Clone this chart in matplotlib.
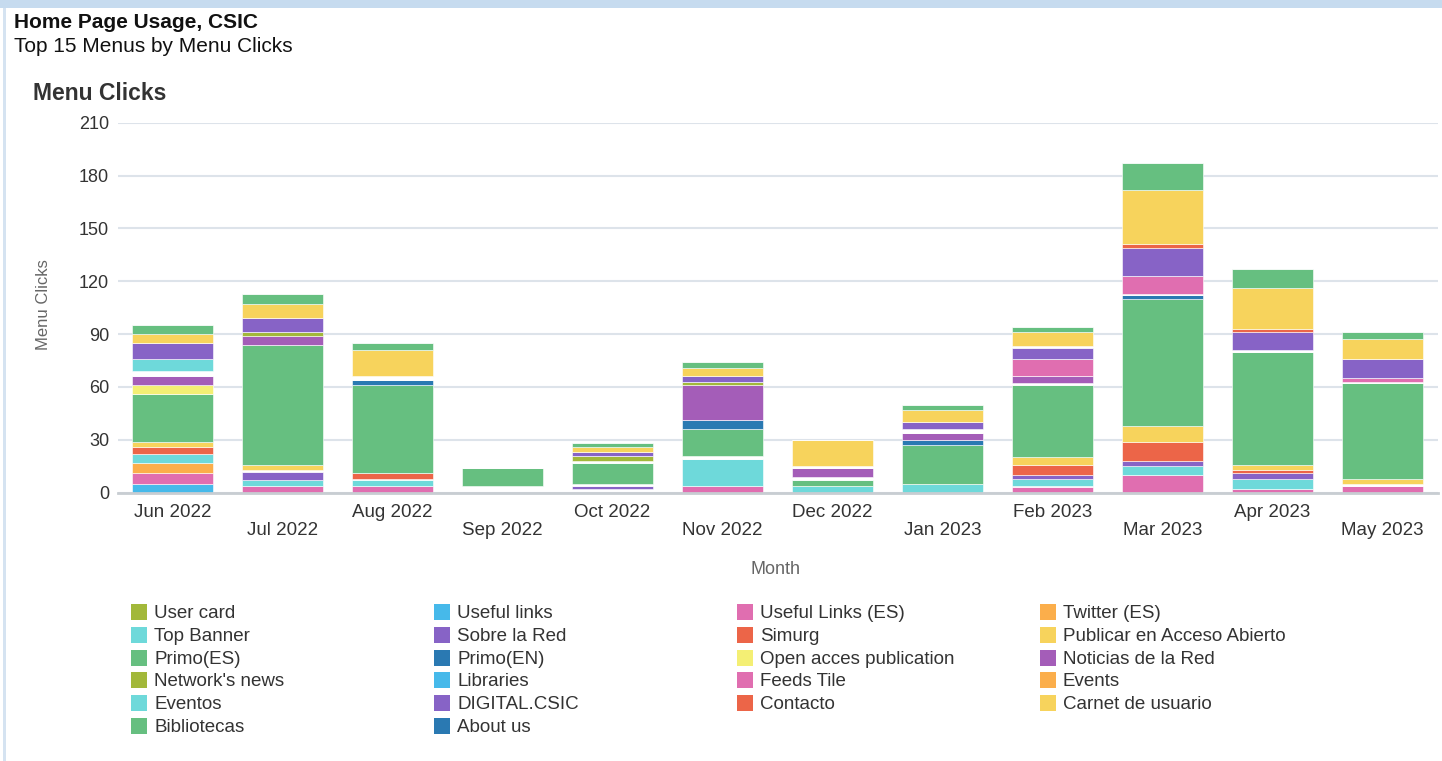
import numpy as np
import matplotlib
matplotlib.use("Agg")
import matplotlib.pyplot as plt
from matplotlib.patches import Rectangle

plt.rcParams['font.family'] = ['Liberation Sans', 'DejaVu Sans']

W, H = 1442, 761

months = ["Jun 2022", "Jul 2022", "Aug 2022", "Sep 2022", "Oct 2022", "Nov 2022",
          "Dec 2022", "Jan 2023", "Feb 2023", "Mar 2023", "Apr 2023", "May 2023"]

# series, bottom of the stack first
user_card      = [0, 0, 0, 0, 0, 0, 0, 0, 0, 0, 0, 0]
useful_links   = [5, 0, 0, 0, 0, 0, 0, 0, 0, 0, 0, 0]
useful_links_es = [6, 4, 4, 0, 0, 4, 0, 0, 3, 10, 2, 4]
twitter_es     = [6, 0, 0, 0, 0, 0, 0, 0, 0, 0, 0, 0]
top_banner     = [5, 3, 3, 0, 0, 15, 4, 5, 4, 5, 6, 0]
sobre_la_red   = [0, 5, 0, 0, 2, 0, 0, 0, 2, 3, 3, 0]
simurg         = [4, 0, 3, 0, 0, 0, 0, 0, 6, 11, 2, 0]
publicar       = [3, 3, 0, 0, 0, 0, 0, 0, 4, 9, 3, 3]
primo_es       = [27, 68, 50, 10, 12, 15, 3, 22, 41, 72, 64, 54]
primo_en       = [0, 0, 3, 0, 0, 5, 0, 3, 0, 2, 0, 0]
open_acces     = [5, 0, 0, 0, 0, 0, 0, 0, 0, 0, 0, 0]
noticias       = [5, 5, 0, 0, 0, 20, 5, 4, 4, 0, 0, 0]
networks_news  = [0, 2, 0, 0, 3, 2, 0, 0, 0, 0, 0, 0]
libraries      = [0, 0, 0, 0, 0, 0, 0, 0, 0, 0, 0, 0]
feeds_tile     = [0, 0, 0, 0, 0, 0, 0, 0, 10, 10, 0, 2]
events         = [0, 0, 0, 0, 0, 0, 0, 0, 0, 0, 0, 0]
eventos        = [7, 0, 0, 0, 0, 0, 0, 0, 0, 0, 0, 0]
digital_csic   = [9, 8, 0, 0, 2, 3, 0, 4, 6, 16, 10, 11]
contacto       = [0, 0, 0, 0, 0, 0, 0, 0, 0, 2, 2, 0]
carnet         = [5, 8, 15, 0, 3, 5, 15, 7, 8, 31, 23, 11]
bibliotecas    = [5, 6, 4, 0, 2, 3, 0, 3, 3, 15, 11, 4]
about_us       = [0, 0, 0, 0, 0, 0, 0, 0, 0, 0, 0, 0]

# empty (white) space showing up under some segments
gap_below = {
    "Top Banner":                 [0, 0, 0, 0, 0, 0, 0, 0, 1, 0, 0, 0],
    "Sobre la Red":               [0, 0, 0, 0, 2, 0, 0, 0, 0, 0, 0, 0],
    "Simurg":                     [0, 0, 1, 0, 0, 0, 0, 0, 0, 0, 0, 0],
    "Publicar en Acceso Abierto": [0, 1, 0, 0, 0, 0, 0, 0, 0, 0, 0, 1],
    "Primo(ES)":                  [0, 0, 0, 4, 1, 2, 0, 0, 0, 0, 0, 0],
    "Noticias de la Red":         [0, 0, 0, 0, 0, 0, 2, 0, 1, 0, 0, 0],
    "Network's news":             [0, 0, 0, 0, 1, 0, 0, 0, 0, 0, 0, 0],
    "Feeds Tile":                 [0, 0, 0, 0, 0, 0, 0, 0, 0, 1, 0, 1],
    "Eventos":                    [3, 0, 0, 0, 0, 0, 0, 0, 0, 0, 0, 0],
    "DIGITAL.CSIC":               [0, 0, 0, 0, 0, 0, 0, 2, 0, 0, 1, 0],
    "Carnet de usuario":          [0, 0, 2, 0, 0, 0, 1, 0, 1, 0, 0, 0],
}

GREEN, YELLOW, PURPLE, MAGENTA = '#66bf80', '#f7d35c', '#8763c6', '#a45db8'
CYAN, PINK, ORANGE, RED = '#6ed9da', '#e06eb0', '#fbae4b', '#ec6548'
LYELLOW, OLIVE, DBLUE, LBLUE = '#f4ef74', '#a2b83a', '#2a79b2', '#46b9ea'

series = [
    ("User card", user_card, OLIVE),
    ("Useful links", useful_links, LBLUE),
    ("Useful Links (ES)", useful_links_es, PINK),
    ("Twitter (ES)", twitter_es, ORANGE),
    ("Top Banner", top_banner, CYAN),
    ("Sobre la Red", sobre_la_red, PURPLE),
    ("Simurg", simurg, RED),
    ("Publicar en Acceso Abierto", publicar, YELLOW),
    ("Primo(ES)", primo_es, GREEN),
    ("Primo(EN)", primo_en, DBLUE),
    ("Open acces publication", open_acces, LYELLOW),
    ("Noticias de la Red", noticias, MAGENTA),
    ("Network's news", networks_news, OLIVE),
    ("Libraries", libraries, LBLUE),
    ("Feeds Tile", feeds_tile, PINK),
    ("Events", events, ORANGE),
    ("Eventos", eventos, CYAN),
    ("DIGITAL.CSIC", digital_csic, PURPLE),
    ("Contacto", contacto, RED),
    ("Carnet de usuario", carnet, YELLOW),
    ("Bibliotecas", bibliotecas, GREEN),
    ("About us", about_us, DBLUE),
]

fig = plt.figure(figsize=(W / 100, H / 100), dpi=100)
fig.patch.set_facecolor('white')

def fx(px):
    return px / W

def fy(py):
    return 1 - py / H

# page frame
fig.patches.append(Rectangle((0, fy(8)), 1, 8 / H, transform=fig.transFigure,
                             facecolor='#c6dbef', edgecolor='none', zorder=0))
fig.patches.append(Rectangle((fx(3), 0), 3 / W, fy(8), transform=fig.transFigure,
                             facecolor='#d5e3f1', edgecolor='none', zorder=0))

ax = fig.add_axes([fx(117.5), fy(492.7), fx(1437.5) - fx(117.5), fy(122.7) - fy(492.7)])
x = np.arange(len(months))
bottom = np.zeros(len(months))
for name, vals, col in series:
    bottom = bottom + np.array(gap_below.get(name, np.zeros(len(months))))
    vals = np.array(vals, dtype=float)
    ax.bar(x, vals, 0.74, bottom=bottom, color=col, edgecolor='white', linewidth=0.4,
           label=name, zorder=3)
    bottom = bottom + vals

ax.set_xlim(-0.5, 11.5)
ax.set_ylim(0, 210)
ax.set_yticks(np.arange(0, 211, 30))
ax.tick_params(axis='y', length=0, pad=6, labelsize=13, labelcolor='#333333')
ax.tick_params(axis='x', length=0, pad=0)
ax.set_xticks(x)
ax.set_xticklabels([])
for i, m in enumerate(months):
    ax.text(i, -11 if i % 2 == 0 else -21.7, m, ha='center', va='center',
            fontsize=13.5, color='#333333', transform=ax.transData, clip_on=False)
ax.grid(axis='y', color='#dde3ea', linewidth=1.5, zorder=0)
for s in ['top', 'right', 'left']:
    ax.spines[s].set_visible(False)
ax.spines['bottom'].set_color('#c8cdd2')
ax.spines['bottom'].set_linewidth(2)
ax.spines['bottom'].set_zorder(4)

# titles
fig.text(fx(14), fy(22), "Home Page Usage, CSIC", fontsize=15, fontweight='bold',
         color='#111111', va='center', ha='left')
fig.text(fx(14), fy(47), "Top 15 Menus by Menu Clicks", fontsize=15,
         color='#111111', va='center', ha='left')
fig.text(fx(33), fy(94), "Menu Clicks", fontsize=16.5, fontweight='bold',
         color='#333333', va='center', ha='left')
fig.text(fx(43), fy(305), "Menu Clicks", fontsize=12, color='#666666',
         rotation=90, va='center', ha='center')
fig.text(fx(775), fy(570), "Month", fontsize=13, color='#666666',
         va='center', ha='center')

# legend, row-major in stacking order
for k, (name, vals, col) in enumerate(series):
    r, c = divmod(k, 4)
    lx = 131 + 303 * c
    ly = 612 + 22.8 * r
    fig.patches.append(Rectangle((fx(lx), fy(ly + 8)), 16 / W, 16 / H,
                                 transform=fig.transFigure, facecolor=col,
                                 edgecolor='none'))
    fig.text(fx(lx + 23), fy(ly + 1.5), name, fontsize=13.5, color='#333333',
             va='center', ha='left')

fig.savefig("out.png", dpi=100)
